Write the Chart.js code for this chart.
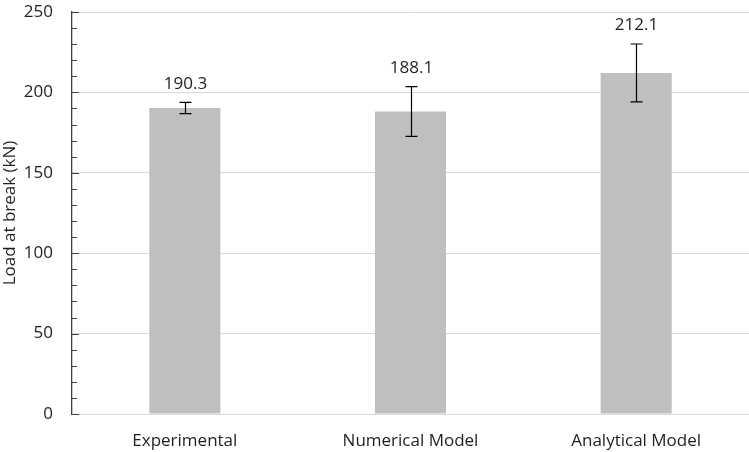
<!DOCTYPE html>
<html>
<head>
<meta charset="utf-8">
<script src="https://cdn.jsdelivr.net/npm/chart.js@4.4.1/dist/chart.umd.min.js"></script>
<style>
  html, body { margin: 0; padding: 0; background: #fff; }
  #wrap { width: 749px; height: 452px; }
</style>
</head>
<body>
<div id="wrap"><canvas id="chart" width="749" height="452"></canvas></div>
<script>
const CATEGORIES = ['Experimental', 'Numerical Model', 'Analytical Model'];
const LOADS = [190.3, 188.1, 212.1];
const ERRORS = [3.5, 15.5, 18];
const Y_TICKS = [0, 50, 100, 150, 200, 250];

const FONT = '"Open Sans", Lato, sans-serif';
const FSIZE = 17;

// small tick marks on the y axis, inside the plot
const minorTicks = {
    id: 'minorTicks',
    afterDraw(chart) {
        const ctx = chart.ctx;
        const y = chart.scales.y;
        const x0 = chart.chartArea.left;
        ctx.save();
        ctx.strokeStyle = '#404040';
        ctx.lineWidth = 1;
        for (let v = 0; v <= 250; v += 10) {
            const py = Math.round(y.getPixelForValue(v)) + 0.5;
            const len = (v % 50 === 0) ? 7 : 5;
            ctx.beginPath();
            ctx.moveTo(x0, py);
            ctx.lineTo(x0 + len, py);
            ctx.stroke();
        }
        ctx.restore();
    }
};

// error bars and value labels
const errorBars = {
    id: 'errorBars',
    afterDatasetsDraw(chart) {
        const ctx = chart.ctx;
        const y = chart.scales.y;
        const meta = chart.getDatasetMeta(0);
        ctx.save();
        ctx.strokeStyle = '#000';
        ctx.lineWidth = 1.2;
        meta.data.forEach((bar, i) => {
            const cx = Math.round(bar.x) + 0.5;
            const top = y.getPixelForValue(LOADS[i] + ERRORS[i]);
            const bot = y.getPixelForValue(LOADS[i] - ERRORS[i]);
            ctx.beginPath();
            ctx.moveTo(cx, top); ctx.lineTo(cx, bot);
            ctx.moveTo(cx - 6, top); ctx.lineTo(cx + 6, top);
            ctx.moveTo(cx - 6, bot); ctx.lineTo(cx + 6, bot);
            ctx.stroke();

            ctx.fillStyle = '#1f1f1f';
            ctx.font = FSIZE + 'px ' + FONT;
            ctx.textAlign = 'center';
            ctx.textBaseline = 'bottom';
            ctx.fillText(LOADS[i].toFixed(1), cx, top - 10);
        });
        ctx.restore();
    }
};

new Chart(document.getElementById('chart'), {
    type: 'bar',
    data: {
        labels: CATEGORIES,
        datasets: [{
            data: LOADS,
            backgroundColor: '#bfbfbf',
            barPercentage: 0.63,
            categoryPercentage: 0.5
        }]
    },
    options: {
        responsive: false,
        animation: false,
        layout: { padding: { top: 12, left: 0, right: 0, bottom: 0 } },
        plugins: {
            legend: { display: false },
            tooltip: { enabled: false }
        },
        scales: {
            x: {
                grid: { display: false, drawTicks: false },
                border: { display: true, color: '#d9d9d9', width: 1 },
                ticks: {
                    color: '#1f1f1f',
                    font: { family: FONT, size: FSIZE },
                    padding: 17
                },
                afterFit(scale) { scale.height = 38; }
            },
            y: {
                min: 0,
                max: 250,
                afterBuildTicks(scale) {
                    scale.ticks = Y_TICKS.map(v => ({ value: v }));
                },
                grid: { color: '#d9d9d9', drawTicks: false },
                border: { display: true, color: '#404040', width: 1.3 },
                ticks: {
                    color: '#1f1f1f',
                    font: { family: FONT, size: FSIZE },
                    padding: 19
                },
                title: {
                    display: true,
                    text: 'Load at break (kN)',
                    color: '#1f1f1f',
                    font: { family: FONT, size: FSIZE },
                    padding: { top: 0, bottom: 2 }
                },
                afterFit(scale) {
                    scale.width = 72;
                    scale.paddingTop = 0;
                    scale.paddingBottom = 0;
                }
            }
        }
    },
    plugins: [minorTicks, errorBars]
});
</script>
</body>
</html>
